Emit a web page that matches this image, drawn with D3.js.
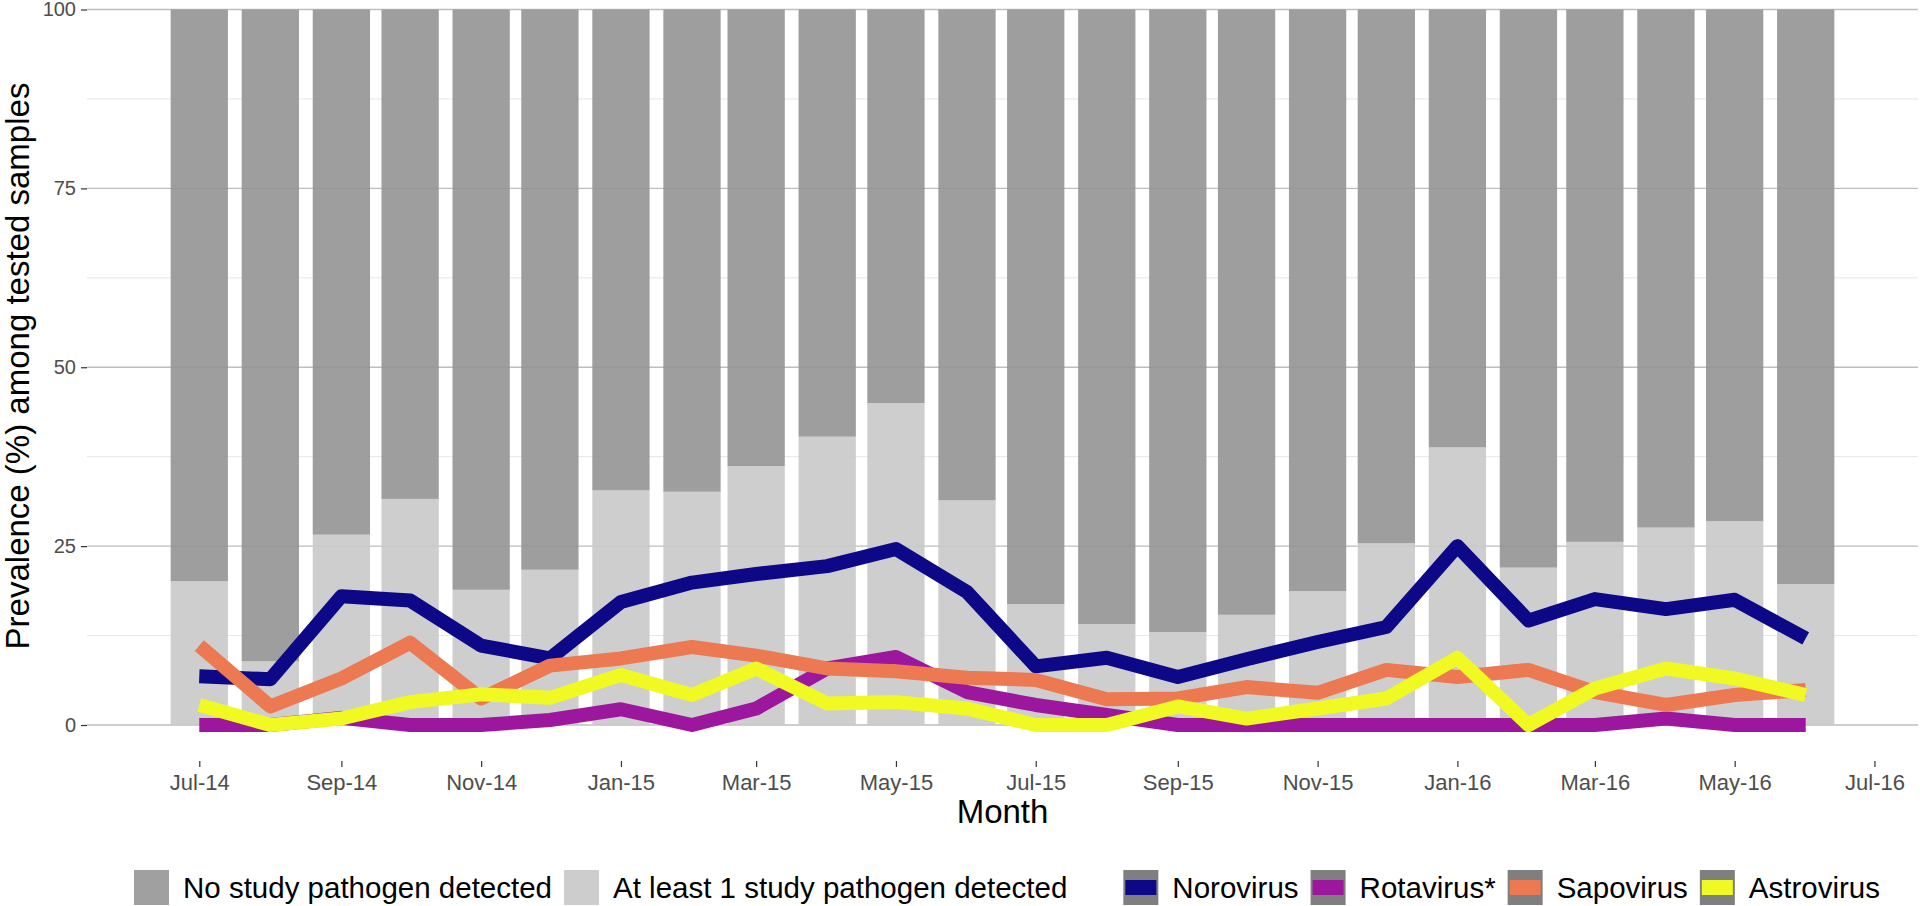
<!DOCTYPE html>
<html>
<head>
<meta charset="utf-8">
<script src="https://cdn.jsdelivr.net/npm/d3@7"></script>
<style>
	body { margin: 0; background: white; }
	text { font-family: "Liberation Sans", Arial, sans-serif; }
</style>
</head>
<body>
<div id="chart"></div>
<script>
// monthly data, Jul 2014 - Jun 2016
const months = ['2014-07', '2014-08', '2014-09', '2014-10', '2014-11', '2014-12',
	'2015-01', '2015-02', '2015-03', '2015-04', '2015-05', '2015-06',
	'2015-07', '2015-08', '2015-09', '2015-10', '2015-11', '2015-12',
	'2016-01', '2016-02', '2016-03', '2016-04', '2016-05', '2016-06'];

const atLeastOne = [20.1, 8.9, 26.6, 31.6, 18.9, 21.7, 32.8, 32.6, 36.2, 40.3, 45.0, 31.4,
	16.9, 14.1, 13.0, 15.4, 18.7, 25.4, 38.8, 22.0, 25.6, 27.6, 28.5, 19.7];
const noPathogen = [79.9, 91.1, 73.4, 68.4, 81.1, 78.3, 67.2, 67.4, 63.8, 59.7, 55.0, 68.6,
	83.1, 85.9, 87.0, 84.6, 81.3, 74.6, 61.2, 78.0, 74.4, 72.4, 71.5, 80.3];

const norovirus = [6.8, 6.4, 18.0, 17.4, 11.1, 9.3, 17.2, 19.9, 21.1, 22.2, 24.6, 18.6,
	8.2, 9.4, 6.7, 9.2, 11.6, 13.7, 25.0, 14.6, 17.6, 16.2, 17.5, 12.1];
const rotavirus = [0, 0, 1.0, 0, 0, 0.7, 2.2, 0, 2.3, 7.9, 9.5, 4.6,
	2.8, 1.4, 0, 0, 0, 0, 0, 0, 0, 0.9, 0, 0];
const sapovirus = [11.1, 2.6, 6.5, 11.5, 3.7, 8.3, 9.3, 10.9, 9.7, 7.9, 7.5, 6.6,
	6.3, 3.6, 3.7, 5.3, 4.5, 7.7, 6.7, 7.7, 4.6, 2.8, 4.2, 4.9];
const astrovirus = [2.8, 0, 0.9, 3.2, 4.3, 3.8, 7.0, 4.2, 7.9, 3.0, 3.2, 2.3,
	0, 0, 2.6, 0.9, 2.3, 3.7, 9.4, 0, 5.1, 7.9, 6.5, 4.2];

const virusNames = ['Norovirus', 'Rotavirus*', 'Sapovirus', 'Astrovirus'];
const virusColors = ['#0d0887', '#9c179e', '#ed7953', '#f0f921'];
const barNames = ['No study pathogen detected', 'At least 1 study pathogen detected'];
const barColors = ['#949494', '#c9c9c9'];

const xTicks = ['2014-07', '2014-09', '2014-11', '2015-01', '2015-03', '2015-05', '2015-07',
	'2015-09', '2015-11', '2016-01', '2016-03', '2016-05', '2016-07'];
const yTicks = [0, 25, 50, 75, 100];
const yMinor = [12.5, 37.5, 62.5, 87.5];

let width = 1920,
	height = 906;

let parseMonth = d3.timeParse('%Y-%m');
let dates = months.map(parseMonth);

let svg = d3.select('#chart')
	.append('svg')
	.attr('width', width)
	.attr('height', height)
	.style('background', 'white');

let x = d3.scaleTime()
	.domain([new Date(2014, 4, 13), new Date(2016, 6, 20)])
	.range([87, 1918]);

let y = d3.scaleLinear()
	.domain([0, 100])
	.range([725, 9.5]);

// grid
svg.append('g')
	.selectAll('line')
	.data(yMinor)
	.join('line')
	.attr('x1', x.range()[0])
	.attr('x2', x.range()[1])
	.attr('y1', d => y(d))
	.attr('y2', d => y(d))
	.style('stroke', '#e6e6e6')
	.style('stroke-width', 1);

svg.append('g')
	.selectAll('line')
	.data(yTicks)
	.join('line')
	.attr('x1', x.range()[0])
	.attr('x2', x.range()[1])
	.attr('y1', d => y(d))
	.attr('y2', d => y(d))
	.style('stroke', '#bebebe')
	.style('stroke-width', 1.4);

// stacked bars
let table = dates.map((d, i) => ({date: d, any: atLeastOne[i], none: noPathogen[i]}));
let stacked = d3.stack().keys(['any', 'none'])(table);
let halfWidth = 12.5 * 24 * 3600 * 1000;

svg.append('g')
	.selectAll('g')
	.data(stacked)
	.join('g')
	.style('fill', d => d.key == 'none' ? barColors[0] : barColors[1])
	.style('fill-opacity', 0.9)
	.selectAll('rect')
	.data(d => d)
	.join('rect')
	.attr('x', d => x(new Date(d.data.date.getTime() - halfWidth)))
	.attr('width', d => x(new Date(d.data.date.getTime() + halfWidth)) - x(new Date(d.data.date.getTime() - halfWidth)))
	.attr('y', d => y(d[1]))
	.attr('height', d => y(d[0]) - y(d[1]));

// lines
let series = [norovirus, rotavirus, sapovirus, astrovirus];
let line = d3.line()
	.x((d, i) => x(dates[i]))
	.y(d => y(d));

svg.append('g')
	.selectAll('path')
	.data(series)
	.join('path')
	.attr('d', d => line(d))
	.style('fill', 'none')
	.style('stroke', (d, i) => virusColors[i])
	.style('stroke-width', 14)
	.style('stroke-linejoin', 'round')
	.style('stroke-linecap', 'butt');

// axes
let fmt = d3.timeFormat('%b-%y');
let xAxis = svg.append('g')
	.attr('transform', 'translate(0,761)')
	.call(d3.axisBottom(x).tickValues(xTicks.map(parseMonth)).tickFormat(fmt).tickSize(6).tickPadding(7));
xAxis.select('.domain').remove();
xAxis.selectAll('line').style('stroke', '#333').style('stroke-width', 1.2);
xAxis.selectAll('text').style('font-size', '22px').style('fill', '#4d4d4d')
	.style('font-family', '"Liberation Sans", Arial, sans-serif');

let yAxis = svg.append('g')
	.attr('transform', 'translate(87,0)')
	.call(d3.axisLeft(y).tickValues(yTicks).tickSize(6).tickPadding(5));
yAxis.select('.domain').remove();
yAxis.selectAll('line').style('stroke', '#333').style('stroke-width', 1.2);
yAxis.selectAll('text').style('font-size', '20px').style('fill', '#4d4d4d')
	.style('font-family', '"Liberation Sans", Arial, sans-serif');

svg.append('text')
	.attr('x', (x.range()[0] + x.range()[1]) / 2)
	.attr('y', 823)
	.attr('text-anchor', 'middle')
	.style('font-size', '33px')
	.text('Month');

svg.append('text')
	.attr('transform', 'rotate(-90)')
	.attr('x', -366)
	.attr('y', 29)
	.attr('text-anchor', 'middle')
	.style('font-size', '33px')
	.text('Prevalence (%) among tested samples');

// legend
let legend = svg.append('g');
let lx = 134;
let keyTop = 870,
	keySize = 35;

function legendText(label, px) {
	let t = legend.append('text')
		.attr('x', px)
		.attr('y', 898)
		.style('font-size', '29.5px')
		.text(label);
	return t.node().getComputedTextLength();
}

for (var i = 0; i < barNames.length; i++) {
	legend.append('rect')
		.attr('x', lx)
		.attr('y', keyTop)
		.attr('width', keySize)
		.attr('height', keySize)
		.style('fill', i == 0 ? '#a0a0a0' : '#cdcdcd');
	let w = legendText(barNames[i], lx + keySize + 14);
	lx += keySize + 14 + w + 12;
}

lx += 44;

for (var i = 0; i < virusNames.length; i++) {
	legend.append('rect')
		.attr('x', lx)
		.attr('y', keyTop)
		.attr('width', keySize)
		.attr('height', keySize)
		.style('fill', '#7f7f7f');
	legend.append('line')
		.attr('x1', lx + 2)
		.attr('x2', lx + keySize - 2)
		.attr('y1', keyTop + keySize / 2)
		.attr('y2', keyTop + keySize / 2)
		.style('stroke', virusColors[i])
		.style('stroke-width', 15);
	let w = legendText(virusNames[i], lx + keySize + 14);
	lx += keySize + 14 + w + 12;
}
</script>
</body>
</html>
